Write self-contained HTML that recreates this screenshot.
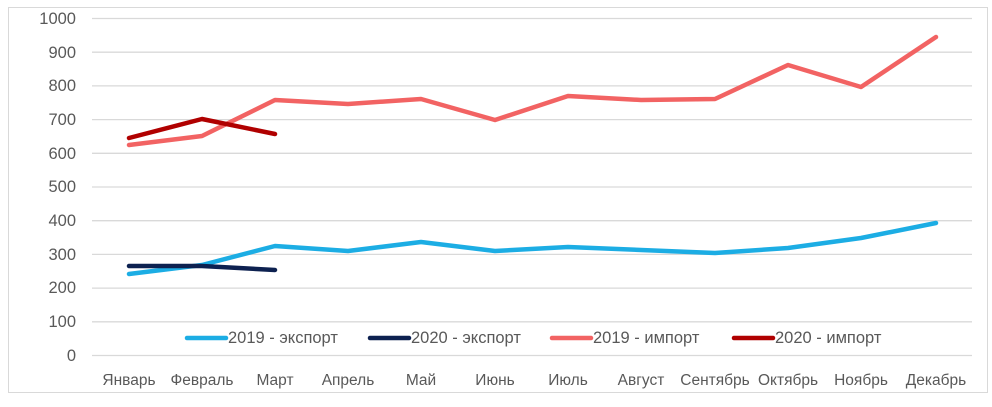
<!DOCTYPE html>
<html><head><meta charset="utf-8"><style>
body{margin:0;background:#fff}
svg text{font-family:"Liberation Sans",sans-serif;fill:#595959}
</style></head><body>
<svg width="992" height="402" xmlns="http://www.w3.org/2000/svg">
<rect x="8.5" y="7.5" width="979" height="385" fill="#fff" stroke="#d9d9d9"/>
<g stroke="#d9d9d9" stroke-width="1.3">
<line x1="92" x2="972" y1="18.5" y2="18.5"/><line x1="92" x2="972" y1="52.2" y2="52.2"/>
<line x1="92" x2="972" y1="85.9" y2="85.9"/><line x1="92" x2="972" y1="119.6" y2="119.6"/>
<line x1="92" x2="972" y1="153.3" y2="153.3"/><line x1="92" x2="972" y1="187" y2="187"/>
<line x1="92" x2="972" y1="220.7" y2="220.7"/><line x1="92" x2="972" y1="254.4" y2="254.4"/>
<line x1="92" x2="972" y1="288.1" y2="288.1"/><line x1="92" x2="972" y1="321.8" y2="321.8"/>
<line x1="92" x2="972" y1="355.5" y2="355.5"/>
</g>
<g font-size="16.5" text-anchor="end">
<text x="76" y="24">1000</text><text x="76" y="58">900</text><text x="76" y="91">800</text>
<text x="76" y="125">700</text><text x="76" y="159">600</text><text x="76" y="192">500</text>
<text x="76" y="226">400</text><text x="76" y="260">300</text><text x="76" y="293">200</text>
<text x="76" y="327">100</text><text x="76" y="361">0</text>
</g>
<g font-size="15.5" text-anchor="middle">
<text x="129" y="385">Январь</text><text x="202" y="385">Февраль</text><text x="275" y="385">Март</text>
<text x="348" y="385">Апрель</text><text x="421" y="385">Май</text><text x="495" y="385">Июнь</text>
<text x="568" y="385">Июль</text><text x="641" y="385">Август</text><text x="715" y="385">Сентябрь</text>
<text x="788" y="385">Октябрь</text><text x="861" y="385">Ноябрь</text><text x="936" y="385">Декабрь</text>
</g>
<g fill="none" stroke-width="4.5" stroke-linejoin="round" stroke-linecap="round">
<polyline stroke="#f26363" points="129,145 202,136 275,100 348,104 421,99 495,120 568,96 641,100 715,99 788,65 861,87 936,37"/>
<polyline stroke="#1cade4" points="129,274 202,265 275,246 348,251 421,242 495,251 568,247 641,250 715,253 788,248 861,238 936,223"/>
<polyline stroke="#0d2150" points="129,266 202,266 275,270"/>
<polyline stroke="#b00000" points="129,138 202,119 275,134"/>
</g>
<g stroke-width="4.5" stroke-linecap="round">
<line x1="187" x2="226" y1="338" y2="338" stroke="#1cade4"/>
<line x1="370" x2="409" y1="338" y2="338" stroke="#0d2150"/>
<line x1="552" x2="591" y1="338" y2="338" stroke="#f26363"/>
<line x1="734" x2="773" y1="338" y2="338" stroke="#b00000"/>
</g>
<g font-size="16.5">
<text x="228" y="343">2019 - экспорт</text><text x="411" y="343">2020 - экспорт</text>
<text x="593" y="343">2019 - импорт</text><text x="775" y="343">2020 - импорт</text>
</g>
</svg>
</body></html>
